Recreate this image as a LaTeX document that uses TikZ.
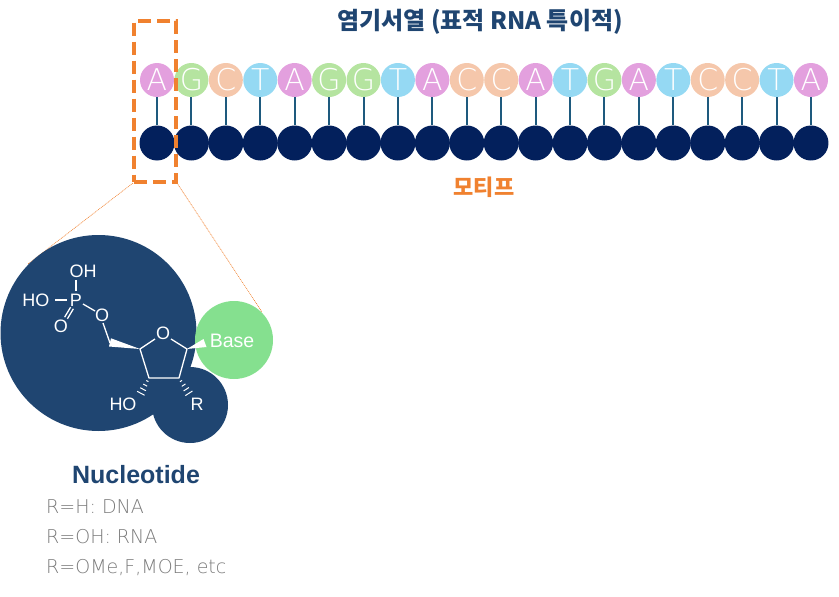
\documentclass[tikz,border=0pt]{standalone}
\usepackage{fontspec}
\setmainfont{Liberation Sans}
\newfontfamily\krfont{Noto Sans CJK KR}
\newfontfamily\thinfont{DejaVu Sans ExtraLight}
\usetikzlibrary{calc}
\definecolor{navy}{HTML}{1F4571}
\definecolor{beaddark}{HTML}{03205C}
\definecolor{stemcol}{HTML}{1E5A7E}
\definecolor{orangec}{HTML}{F0812F}
\definecolor{basegreen}{HTML}{85E08F}
\definecolor{colA}{HTML}{E3A0DE}
\definecolor{colG}{HTML}{B5E4A0}
\definecolor{colC}{HTML}{F5C7AB}
\definecolor{colT}{HTML}{95D9F3}
\definecolor{gtext}{HTML}{7A7A7A}
\tikzset{
  bead/.style={circle, minimum size=34pt, inner sep=0pt, text=white,
    font=\thinfont\fontsize{30}{30}\selectfont, text height=21.9pt, text depth=0pt},
  backbone/.style={circle, minimum size=35pt, inner sep=0pt, fill=beaddark},
  stem/.style={draw=stemcol, line width=2pt},
  bond/.style={draw=white, line width=1.3pt},
  atom/.style={text=white, inner sep=0pt, font=\fontsize{18}{18}\selectfont},
  guide/.style={draw=orangec, line width=0.6pt, dash pattern=on 1pt off 0.8pt},
  motifbox/.style={draw=orangec, line width=4pt, dash pattern=on 13pt off 6pt},
  blob/.style={circle, fill=navy, inner sep=0pt},
  graytxt/.style={text=gtext, anchor=west, inner sep=0pt, font=\thinfont\fontsize{19}{19}\selectfont}
}
\begin{document}
\begin{tikzpicture}[x=1pt,y=-1pt]
\useasboundingbox (0,0) rectangle (839,597);

% title
\node[text=navy, font=\krfont\bfseries\fontsize{24}{24}\selectfont] (title) at (480,22) {염기서열 (표적 RNA 특이적)};
\node[text=orangec, font=\krfont\bfseries\fontsize{22}{22}\selectfont] (motif) at (484,187) {모티프};

% guide lines
\coordinate (gl1) at (133,183);
\coordinate (gl2) at (28,264);
\coordinate (gr1) at (177,183);
\coordinate (gr2) at (262,312);
\draw[guide] (gl1) -- (gl2);
\draw[guide] (gr1) -- (gr2);

% nucleotide blobs
\node[blob, minimum size=196pt] (big) at (98.5,333) {};
\node[blob, minimum size=76pt] (small) at (190,405) {};
\node[circle, fill=basegreen, minimum size=78pt, inner sep=0pt] (base) at (234,340) {};
\node[atom, font=\fontsize{19.5}{19.5}\selectfont] (basetxt) at (232,341) {Base};

% molecule
\node[atom] (oh1) at (83,271) {OH};
\node[atom] (p) at (76,300) {P};
\node[atom] (ho1) at (36,300) {HO};
\node[atom] (oe) at (102,315) {O};
\node[atom] (od) at (61,326) {O};
\node[atom] (or) at (163,333) {O};
\node[atom] (ho2) at (123,404) {HO};
\node[atom] (r) at (197,404) {R};
\coordinate (c5) at (110,343);
\coordinate (c4) at (140,349);
\coordinate (c1) at (187,349);
\coordinate (c2) at (179,378);
\coordinate (c3) at (149,378);
\draw[bond] (55,300) -- (67,300);
\draw[bond] (76,291) -- (76,280);
\draw[bond] (83,304) -- (95,311);
\draw[bond] (73.4,308.8) -- (67.4,318.8);
\draw[bond] (70.6,307.2) -- (64.6,317.2);
\draw[bond] (103,323) -- (c5);
\fill[white] (111,338.3) -- (109,346.5) -- (c4) -- cycle;
\draw[bond, line join=round] (155,339) -- (c4) -- (c3) -- (c2) -- (c1) -- (171,339);
\fill[white] (c1) -- (203.5,339) -- (206.5,347) -- cycle;
\coordinate (hoe) at (140,395);
\coordinate (re) at (190,395);
\foreach \t/\h in {0.18/1.2,0.42/2.2,0.66/3.2,0.9/4.2}{
  \draw[draw=white, line width=1pt] ($($(c3)!\t!(hoe)$)!\h pt!90:(hoe)$) -- ($($(c3)!\t!(hoe)$)!\h pt!-90:(hoe)$);
  \draw[draw=white, line width=1pt] ($($(c2)!\t!(re)$)!\h pt!90:(re)$) -- ($($(c2)!\t!(re)$)!\h pt!-90:(re)$);
}

% texts
\node[text=navy, font=\bfseries\fontsize{25}{25}\selectfont] (nuc) at (136,475) {Nucleotide};
\node[graytxt] (l1) at (46,507) {R=H: DNA};
\node[graytxt] (l2) at (46,537) {R=OH: RNA};
\node[graytxt] (l3) at (46,568) {R=OMe,F,MOE, etc};

% beads
\foreach \b [count=\i from 0] in {A,G,C,T,A,G,G,T,A,C,C,A,T,G,A,T,C,C,T,A}{
  \node[backbone] (b\i) at ({157+34.42*\i},143) {};
  \node[bead, fill=col\b] (t\i) at ({157+34.42*\i},80) {\b};
  \draw[stem] (t\i) -- (b\i);
}

% motif box
\node[motifbox, minimum width=42pt, minimum height=161pt, inner sep=0pt] (box) at (155,101) {};
\end{tikzpicture}
\end{document}
